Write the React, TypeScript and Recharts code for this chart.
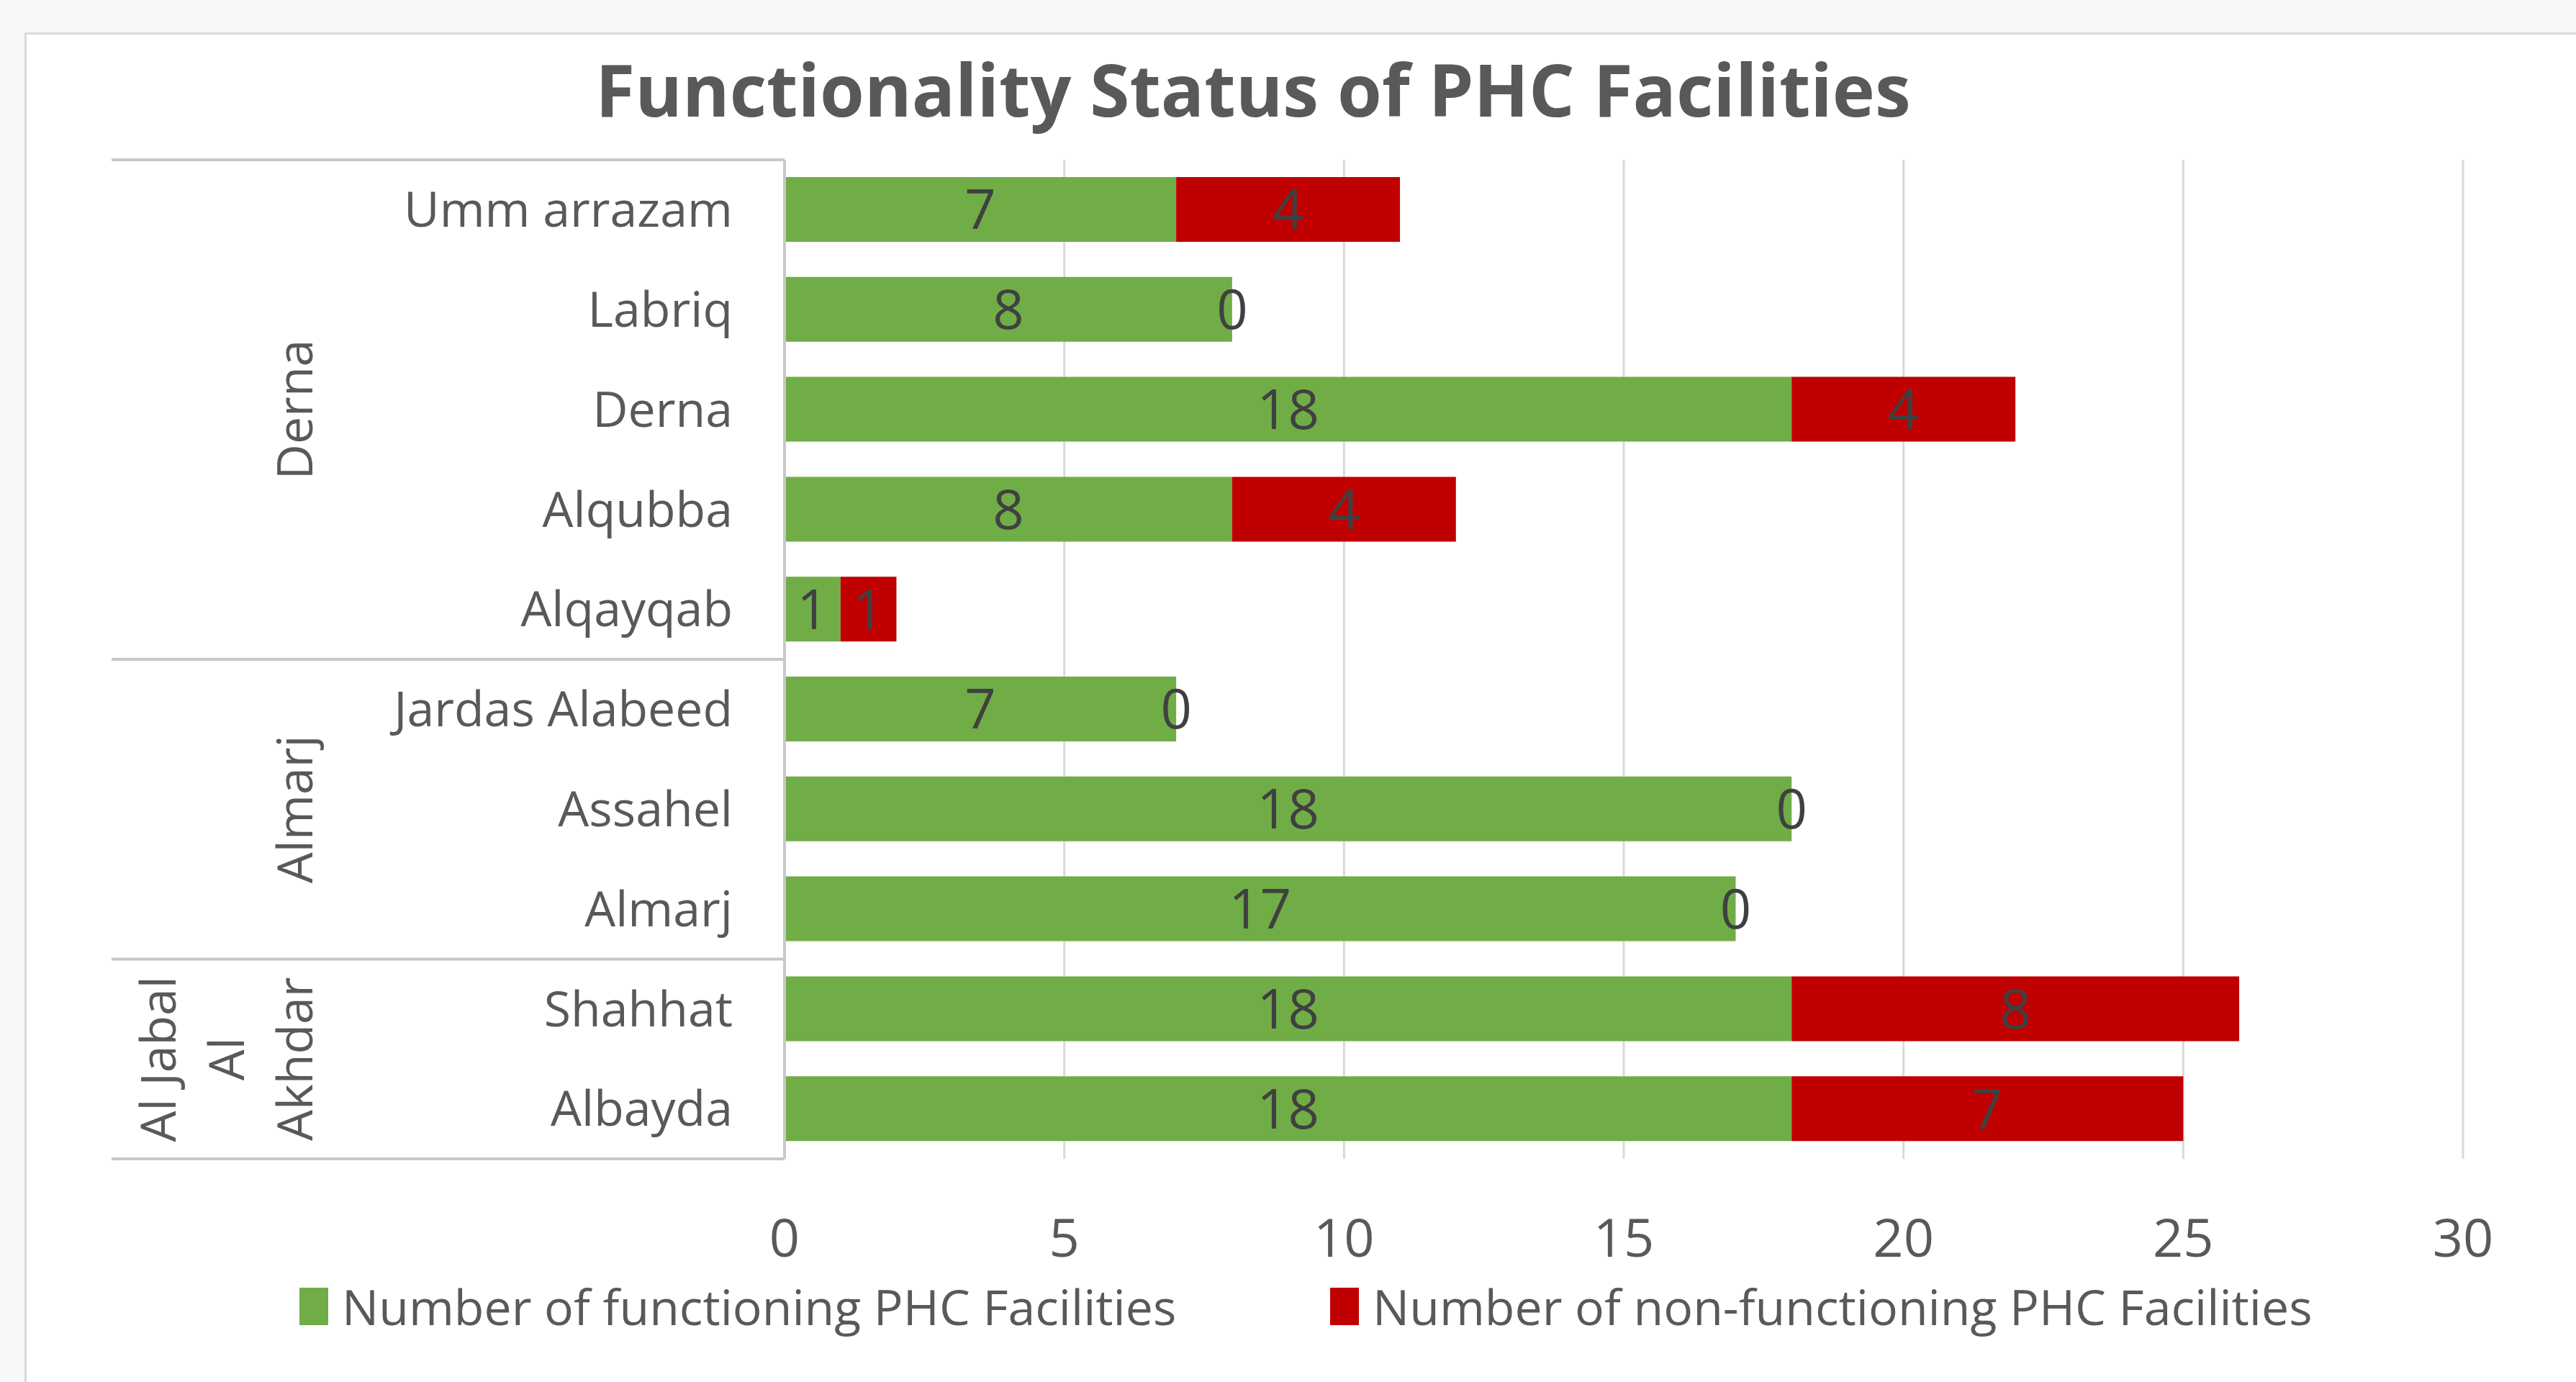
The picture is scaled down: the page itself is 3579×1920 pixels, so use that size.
import React from 'react';
import {
  BarChart,
  Bar,
  XAxis,
  YAxis,
  CartesianGrid,
  LabelList,
  Legend,
  Customized,
} from 'recharts';

// ---------- data ----------
const districts = [
  'Umm arrazam',
  'Labriq',
  'Derna',
  'Alqubba',
  'Alqayqab',
  'Jardas Alabeed',
  'Assahel',
  'Almarj',
  'Shahhat',
  'Albayda',
];
const functioning = [7, 8, 18, 8, 1, 7, 18, 17, 18, 18];
const nonFunctioning = [4, 0, 4, 4, 1, 0, 0, 0, 8, 7];

const regionLines = [['Derna'], ['Almarj'], ['Al Jabal', 'Al', 'Akhdar']];
const regionSizes = [5, 3, 2];

const xTicks = [0, 5, 10, 15, 20, 25, 30];
const seriesNames = [
  'Number of functioning PHC Facilities',
  'Number of non-functioning PHC Facilities',
];
const titleText = 'Functionality Status of PHC Facilities';

const tableData = districts.map((name, i) => ({
  name,
  functioning: functioning[i],
  nonFunctioning: nonFunctioning[i],
}));

// ---------- layout / style ----------
const W = 3579;
const H = 1920;
const PLOT_TOP = 222;
const PLOT_BOTTOM = 1610;
const PLOT_LEFT = 1090;
const PLOT_RIGHT = 3422;
const X_AXIS_H = 150;

const FONT = "'Open Sans', 'Noto Sans', sans-serif";
const TEXT = '#595959';
const GREEN = '#70AD47';
const RED = '#C00000';
const LINE = '#c8c8c8';
const GRID = '#d9d9d9';

const CAT_FONT = 68;
const CAT_RIGHT = 1018;
const GROUP_FONT = 68;
const GROUP_LAST_X = 410;
const GROUP_LINE_STEP = 95;
const GROUP_LINE_LEFT = 155;
const VALUE_FONT = 76;
const TICK_FONT = 74;

const CategoryTick = (props: any) => {
  const { y, payload } = props;
  const idx = districts.indexOf(payload.value);
  const band = (PLOT_BOTTOM - PLOT_TOP) / districts.length;
  const half = band / 2;
  const parts: React.ReactNode[] = [];
  parts.push(
    <text
      key="lab"
      x={CAT_RIGHT}
      y={y}
      dy={CAT_FONT * 0.35}
      textAnchor="end"
      fontFamily={FONT}
      fontSize={CAT_FONT}
      fill={TEXT}
    >
      {payload.value}
    </text>
  );
  let start = 0;
  regionSizes.forEach((size, g) => {
    if (idx === start) {
      const top = y - half;
      const cy = top + half * size;
      parts.push(
        <line
          key={'gl' + g}
          x1={GROUP_LINE_LEFT}
          x2={PLOT_LEFT}
          y1={top}
          y2={top}
          stroke={LINE}
          strokeWidth={4}
        />
      );
      const lines = regionLines[g];
      lines.forEach((ln, k) => {
        const lx = GROUP_LAST_X - (lines.length - 1 - k) * GROUP_LINE_STEP;
        parts.push(
          <text
            key={'gt' + g + '_' + k}
            x={lx}
            y={cy}
            transform={`rotate(-90 ${lx} ${cy})`}
            dy={GROUP_FONT * 0.35}
            textAnchor="middle"
            fontFamily={FONT}
            fontSize={GROUP_FONT}
            fill={TEXT}
          >
            {ln}
          </text>
        );
      });
    }
    start += size;
  });
  if (idx === districts.length - 1) {
    parts.push(
      <line
        key="bottom"
        x1={GROUP_LINE_LEFT}
        x2={PLOT_LEFT}
        y1={y + half}
        y2={y + half}
        stroke={LINE}
        strokeWidth={4}
      />
    );
  }
  return <g>{parts}</g>;
};

const ValueTick = (props: any) => {
  const { x, payload } = props;
  return (
    <text
      x={x}
      y={PLOT_BOTTOM + 136}
      textAnchor="middle"
      fontFamily={FONT}
      fontSize={TICK_FONT}
      fill={TEXT}
    >
      {payload.value}
    </text>
  );
};

const valueText = (cx: number, cy: number, value: any) => (
  <text
    x={cx}
    y={cy}
    dy={VALUE_FONT * 0.36}
    textAnchor="middle"
    fontFamily={FONT}
    fontSize={VALUE_FONT}
    fill="#404040"
  >
    {value}
  </text>
);

// label centred in its own segment (non-zero values)
const renderValueLabel = (props: any) => {
  const { x, y, width, height, value } = props;
  if (Number(value) === 0) return null;
  return valueText(Number(x) + Number(width) / 2, Number(y) + Number(height) / 2, value);
};

// a zero-width second segment still shows its "0" at the end of the first one
const renderZeroAtEnd = (props: any) => {
  const { x, y, width, height, value } = props;
  if (Number(value) !== 0) return null;
  return valueText(Number(x) + Number(width), Number(y) + Number(height) / 2, value);
};

const Title = () => (
  <text
    x={1741}
    y={162}
    textAnchor="middle"
    fontFamily={FONT}
    fontWeight={700}
    fontSize={100}
    fill={TEXT}
  >
    {titleText}
  </text>
);

const renderLegend = () => {
  const colors = [GREEN, RED];
  return (
    <div style={{ display: 'flex', alignItems: 'center', height: 64 }}>
      {seriesNames.map((nm, i) => (
        <div
          key={nm}
          style={{
            display: 'flex',
            alignItems: 'center',
            width: i === 0 ? 1432 : undefined,
          }}
        >
          <div
            style={{
              width: 40,
              height: 52,
              background: colors[i],
              marginRight: 19,
              flex: '0 0 auto',
            }}
          />
          <span
            style={{
              fontFamily: FONT,
              fontSize: 68,
              color: TEXT,
              lineHeight: '64px',
              whiteSpace: 'nowrap',
            }}
          >
            {nm}
          </span>
        </div>
      ))}
    </div>
  );
};

export default function App() {
  return (
    <div
      style={{
        position: 'absolute',
        left: 0,
        top: 0,
        width: W,
        height: H,
        background: '#f8f8f8',
        overflow: 'hidden',
      }}
    >
      <div
        style={{
          position: 'absolute',
          left: 34,
          top: 45,
          width: W + 50,
          height: H + 50,
          background: '#ffffff',
          borderTop: '3px solid #d9d9d9',
          borderLeft: '3px solid #d9d9d9',
        }}
      />
      <div style={{ position: 'absolute', left: 0, top: 0 }}>
        <BarChart
          width={W}
          height={H}
          data={tableData}
          layout="vertical"
          margin={{
            top: PLOT_TOP,
            right: W - PLOT_RIGHT,
            bottom: H - PLOT_BOTTOM - X_AXIS_H,
            left: 0,
          }}
          barSize={90}
        >
          <CartesianGrid horizontal={false} stroke={GRID} strokeWidth={3} />
          <XAxis
            type="number"
            domain={[0, 30]}
            ticks={xTicks}
            axisLine={false}
            tickLine={false}
            height={X_AXIS_H}
            tick={<ValueTick />}
            interval={0}
          />
          <YAxis
            type="category"
            dataKey="name"
            width={PLOT_LEFT}
            axisLine={{ stroke: LINE, strokeWidth: 4 }}
            tickLine={false}
            tick={<CategoryTick />}
            interval={0}
          />
          <Bar
            dataKey="functioning"
            name={seriesNames[0]}
            stackId="a"
            fill={GREEN}
            isAnimationActive={false}
          >
            <LabelList dataKey="functioning" content={renderValueLabel} />
            <LabelList dataKey="nonFunctioning" content={renderZeroAtEnd} />
          </Bar>
          <Bar
            dataKey="nonFunctioning"
            name={seriesNames[1]}
            stackId="a"
            fill={RED}
            isAnimationActive={false}
          >
            <LabelList dataKey="nonFunctioning" content={renderValueLabel} />
          </Bar>
          <Legend
            layout="horizontal"
            verticalAlign="middle"
            align="center"
            wrapperStyle={{ position: 'absolute', left: 416, top: 1783, width: 3000, height: 64 }}
            content={renderLegend}
          />
          <Customized component={Title} />
        </BarChart>
      </div>
    </div>
  );
}
